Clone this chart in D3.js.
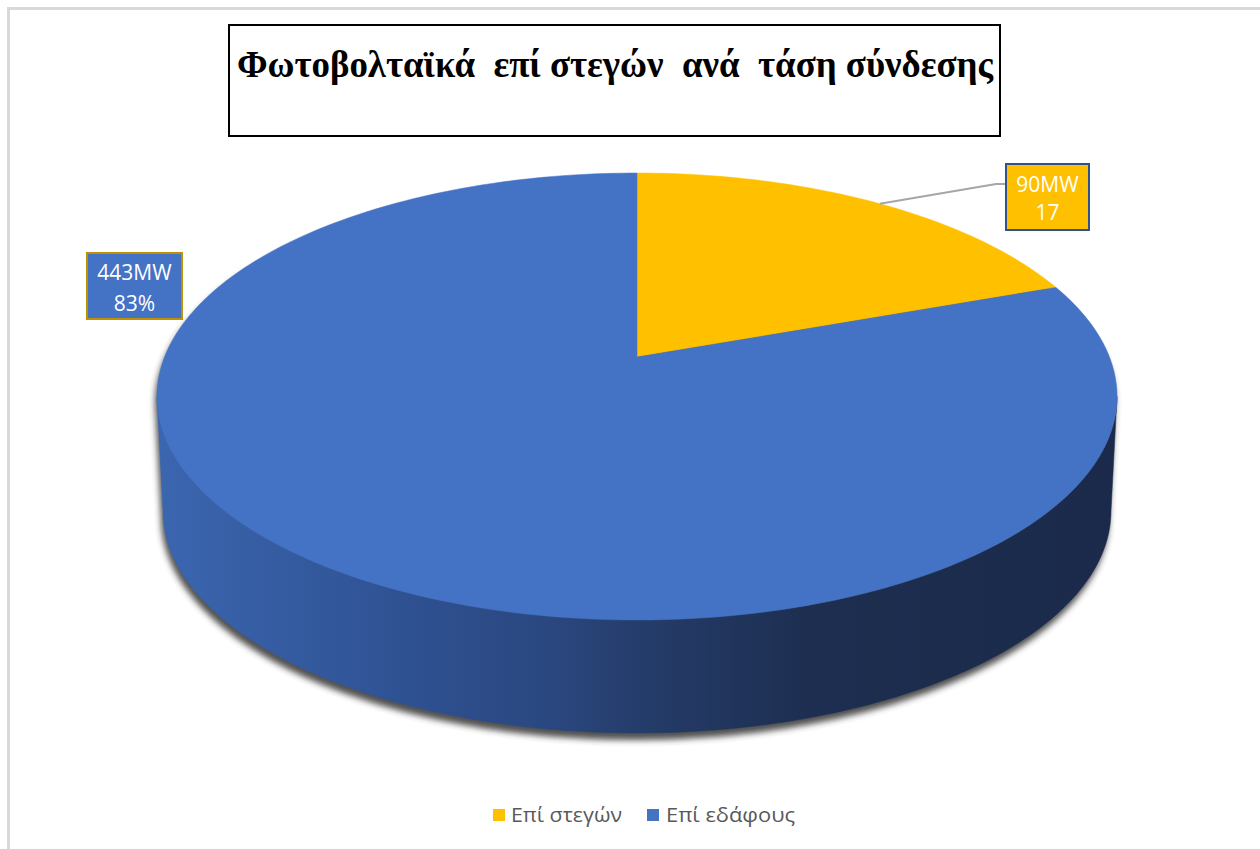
<!DOCTYPE html>
<html>
<head>
<meta charset="utf-8">
<script src="https://cdn.jsdelivr.net/npm/d3@7"></script>
<style>
  html, body { margin: 0; padding: 0; background: #fff; }
  svg { display: block; }
</style>
</head>
<body>
<svg id="chart" width="1260" height="849"></svg>
<script>
// Chart data
const chartTitle = "Φωτοβολταϊκά  επί στεγών  ανά  τάση σύνδεσης";
const categories = ["Επί στεγών", "Επί εδάφους"];
const valuesMW = [90, 443];
const labelLines = [["90MW", "17"], ["443MW", "83%"]];

// Styling
const fills = ["#FFC000", "#4472C4"];
const labelBorders = ["#2F528F", "#BF9000"];

const svg = d3.select("#chart");
const defs = svg.append("defs");

// White background and the light chart-area frame
svg.append("rect").attr("width", 1260).attr("height", 849).attr("fill", "#fff");
svg.append("rect")
  .attr("x", 8.5).attr("y", 8.5).attr("width", 1400).attr("height", 1000)
  .attr("fill", "none").attr("stroke", "#d9d9d9").attr("stroke-width", 3);

// Title box
svg.append("rect")
  .attr("x", 229).attr("y", 25).attr("width", 771).attr("height", 111)
  .attr("fill", "#fff").attr("stroke", "#000").attr("stroke-width", 2);
svg.append("text")
  .attr("x", 615).attr("y", 77)
  .attr("text-anchor", "middle")
  .attr("textLength", 756).attr("lengthAdjust", "spacingAndGlyphs")
  .style("white-space", "pre")
  .attr("font-family", "'Liberation Serif', 'Times New Roman', serif")
  .attr("font-weight", "bold").attr("font-size", 38)
  .attr("fill", "#000")
  .text(chartTitle);

// 3D pie geometry: top face ellipse, lower rim ellipse, slice apex
const geo = {
  cx: 637, apexY: 357,
  topCY: 396.5, rx: 480, ry: 223.5,
  botCY: 511, botRx: 474, botRy: 222
};
const topPt = t => [geo.cx + geo.rx * Math.sin(t), geo.topCY - geo.ry * Math.cos(t)];
const botPt = t => [geo.cx + geo.botRx * Math.sin(t), geo.botCY - geo.botRy * Math.cos(t)];
const sample = (a, b, f) => {
  const n = Math.max(2, Math.ceil(Math.abs(b - a) / (Math.PI / 180)));
  return d3.range(n + 1).map(i => f(a + (b - a) * i / n));
};
const line = d3.line().curve(d3.curveLinear);

const pie = d3.pie().sort(null).value(d => d.v).startAngle(0).endAngle(2 * Math.PI);
const arcs = pie(valuesMW.map((v, i) => ({ v, i })));

// Soft drop shadow under the disc
const blur = defs.append("filter").attr("id", "shadowBlur")
  .attr("x", "-10%").attr("y", "-10%").attr("width", "120%").attr("height", "130%");
blur.append("feGaussianBlur").attr("stdDeviation", 3);
const silhouette = sample(-Math.PI / 2, Math.PI / 2, topPt)
  .concat(sample(Math.PI / 2, 3 * Math.PI / 2, botPt));
svg.append("path")
  .attr("d", line(silhouette) + "Z")
  .attr("transform", "translate(-2,7)")
  .attr("fill", "#333").attr("opacity", 0.85)
  .attr("filter", "url(#shadowBlur)");

// Side wall shading
const grad = defs.append("linearGradient").attr("id", "sideGrad")
  .attr("gradientUnits", "userSpaceOnUse")
  .attr("x1", geo.cx - geo.rx).attr("x2", geo.cx + geo.rx).attr("y1", 0).attr("y2", 0);
[[0, "#3b66b0"], [0.25, "#2f5293"], [0.41, "#2a477f"], [0.5, "#253d6b"], [0.68, "#1d2e50"], [1, "#1b2a4a"]]
  .forEach(([o, c]) => grad.append("stop").attr("offset", o).attr("stop-color", c));

// Side walls: visible part of each slice on the front half of the rim
arcs.forEach(a => {
  const s = Math.max(a.startAngle, Math.PI / 2);
  const e = Math.min(a.endAngle, 3 * Math.PI / 2);
  if (e <= s) return;
  const pts = sample(s, e, topPt).concat(sample(e, s, botPt));
  svg.append("path")
    .attr("d", line(pts) + "Z")
    .attr("fill", a.index === 1 ? "url(#sideGrad)" : d3.color(fills[a.index]).darker(1.2))
    .attr("stroke", a.index === 1 ? "url(#sideGrad)" : "none").attr("stroke-width", 0.5);
});

// Top faces of the slices
arcs.forEach(a => {
  const pts = [[geo.cx, geo.apexY]].concat(sample(a.startAngle, a.endAngle, topPt));
  svg.append("path")
    .attr("d", line(pts) + "Z")
    .attr("fill", fills[a.index])
    .attr("stroke", fills[a.index]).attr("stroke-width", 0.5);
});

// Data labels
const labelBoxes = [
  { x: 1006, y: 164, w: 83, h: 66, base: [192, 220] },
  { x: 87, y: 253, w: 95, h: 66, base: [280, 311] }
];

// Leader line for the small slice
{
  const a = arcs[0];
  const mid = (a.startAngle + a.endAngle) / 2;
  const p = topPt(mid);
  const b = labelBoxes[0];
  svg.append("polyline")
    .attr("points", [p, [b.x - 10, b.y + 20], [b.x, b.y + 20]].map(q => q.join(",")).join(" "))
    .attr("fill", "none").attr("stroke", "#a6a6a6").attr("stroke-width", 2);
}

arcs.forEach(a => {
  const b = labelBoxes[a.index];
  const g = svg.append("g");
  g.append("rect")
    .attr("x", b.x).attr("y", b.y).attr("width", b.w).attr("height", b.h)
    .attr("fill", fills[a.index])
    .attr("stroke", labelBorders[a.index]).attr("stroke-width", 2);
  labelLines[a.index].forEach((t, j) => {
    g.append("text")
      .attr("x", b.x + b.w / 2).attr("y", b.base[j])
      .attr("text-anchor", "middle")
      .attr("font-family", "'Open Sans', 'Noto Sans', sans-serif")
      .attr("font-size", 21).attr("fill", "#fff")
      .text(t);
  });
});

// Legend
const legendItems = [{ x: 493, tx: 511, w: 111 }, { x: 647, tx: 666, w: 129 }];
categories.forEach((c, i) => {
  const li = legendItems[i];
  svg.append("rect")
    .attr("x", li.x).attr("y", 809).attr("width", 12).attr("height", 12)
    .attr("fill", fills[i]);
  svg.append("text")
    .attr("x", li.tx).attr("y", 822)
    .attr("textLength", li.w).attr("lengthAdjust", "spacingAndGlyphs")
    .attr("font-family", "'Open Sans', 'Noto Sans', sans-serif")
    .attr("font-size", 19.5).attr("fill", "#595959")
    .text(c);
});
</script>
</body>
</html>
